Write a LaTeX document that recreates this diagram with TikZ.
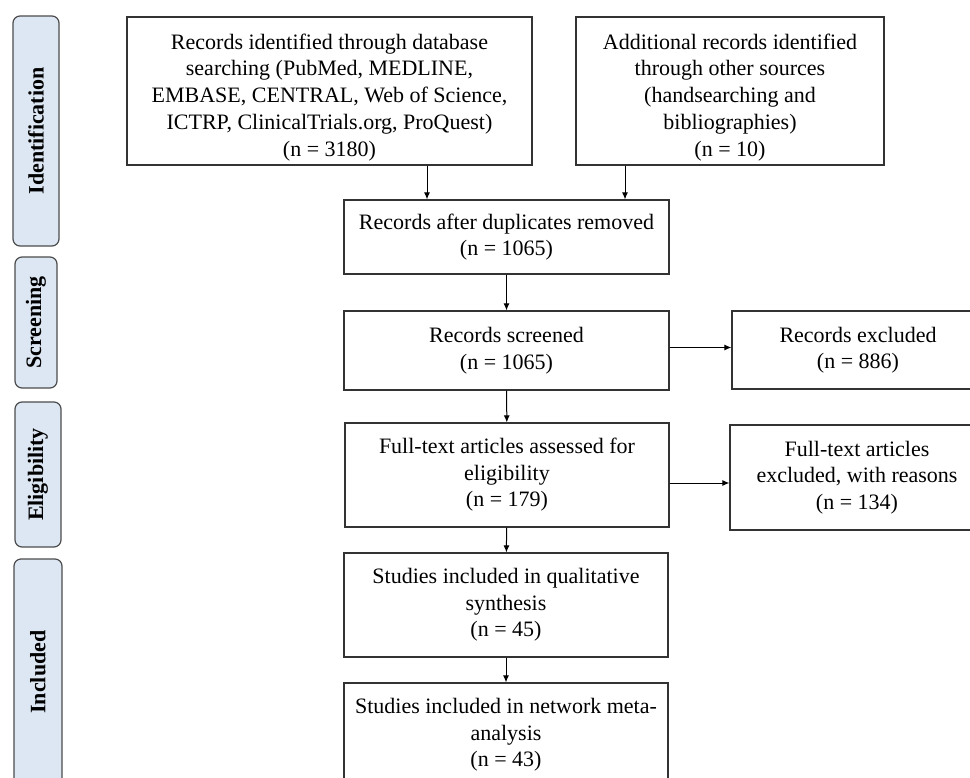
\documentclass[tikz,border=0pt]{standalone}
\usepackage{fontspec}
\setmainfont{Liberation Serif}
\usetikzlibrary{arrows.meta}
\definecolor{phasefill}{HTML}{DDE7F3}
\newcommand{\firststrut}{\rule{0pt}{28pt}}

\begin{document}
\begin{tikzpicture}[x=1pt, y=-1pt,
    box/.style={draw=black!80, line width=1.2pt, inner sep=0pt, align=center,
        font=\fontsize{22}{26.5}\selectfont},
    tallbox/.style={box, font=\fontsize{22}{26.7}\selectfont},
    phase/.style={draw=black!70, fill=phasefill, line width=1.2pt, rounded corners=7pt,
        inner sep=0pt, rotate=90, font=\bfseries\fontsize{22}{26}\selectfont},
    arr/.style={-{Latex[length=7pt,width=6pt]}, line width=1pt}]
    \clip (0,0) rectangle (970,778);

    % phases
    \node[phase, minimum width=230, minimum height=46] (ident) at (36,131) {Identification};
    \node[phase, minimum width=131, minimum height=42] (screen) at (36,322.5) {Screening};
    \node[phase, minimum width=145, minimum height=46] (elig) at (38,474.5) {Eligibility};
    \node[phase, minimum width=226, minimum height=48] (incl) at (38,672) {Included};

    % boxes
    \node[tallbox, minimum width=405, minimum height=148] (db) at (329.5,91)
        {\firststrut Records identified through database\\searching (PubMed, MEDLINE,\\EMBASE, CENTRAL, Web of Science,\\ICTRP, ClinicalTrials.org, ProQuest)\\(n = 3180)};
    \node[tallbox, minimum width=308, minimum height=148] (other) at (730,91)
        {\firststrut Additional records identified\\through other sources\\(handsearching and\\bibliographies)\\(n = 10)};
    \node[box, minimum width=325, minimum height=74] (dup) at (506.5,237)
        {Records after duplicates removed\\(n = 1065)};
    \node[box, minimum width=325, minimum height=79] (screened) at (506.5,350.5)
        {Records screened\\(n = 1065)};
    \node[box, minimum width=252, minimum height=78] (excl) at (858,350)
        {Records excluded\\(n = 886)};
    \node[box, minimum width=324, minimum height=104] (fulltext) at (507,475)
        {Full-text articles assessed for\\eligibility\\(n = 179)};
    \node[box, minimum width=254, minimum height=105] (exclft) at (857,477.5)
        {Full-text articles\\excluded, with reasons\\(n = 134)};
    \node[box, minimum width=324, minimum height=104] (qual) at (506,605)
        {Studies included in qualitative\\synthesis\\(n = 45)};
    \node[box, minimum width=324, minimum height=104] (meta) at (506,735)
        {Studies included in network meta-\\analysis\\(n = 43)};

    % arrows
    \draw[arr] ([xshift=97.5pt]db.south) -- ([xshift=97.5pt]db.south |- dup.north);
    \draw[arr] ([xshift=-105pt]other.south) -- ([xshift=-105pt]other.south |- dup.north);
    \draw[arr] (dup) -- (screened);
    \draw[arr] (screened) -- (fulltext);
    \draw[arr] (fulltext) -- (qual);
    \draw[arr] (qual) -- (meta);
    \draw[arr] ([yshift=3pt]screened.east) -- ([yshift=3pt]screened.east -| excl.west);
    \draw[arr] ([yshift=-8pt]fulltext.east) -- ([yshift=-8pt]fulltext.east -| exclft.west);
\end{tikzpicture}
\end{document}
